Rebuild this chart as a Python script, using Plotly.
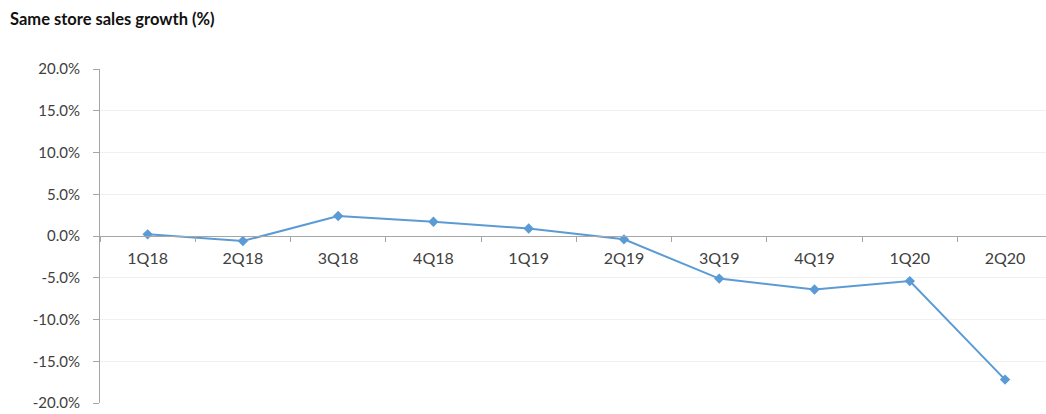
import plotly.graph_objects as go

quarters = ["1Q18", "2Q18", "3Q18", "4Q18", "1Q19", "2Q19", "3Q19", "4Q19", "1Q20", "2Q20"]
growth = [0.2, -0.6, 2.4, 1.7, 0.9, -0.4, -5.1, -6.4, -5.4, -17.2]
y_ticks = [20, 15, 10, 5, 0, -5, -10, -15, -20]
y_tick_labels = ["20.0%", "15.0%", "10.0%", "5.0%", "0.0%", "-5.0%", "-10.0%", "-15.0%", "-20.0%"]

fig = go.Figure()
fig.add_trace(go.Scatter(
    x=quarters, y=growth, mode="lines+markers",
    line=dict(color="#5b9bd5", width=2),
    marker=dict(symbol="diamond", size=8, color="#5b9bd5"),
    showlegend=False,
))

fig.update_layout(
    width=1046, height=414,
    margin=dict(l=100, r=0, t=69, b=11),
    paper_bgcolor="white", plot_bgcolor="white",
    font=dict(family="Lato, Open Sans, sans-serif", size=15, color="#404040"),
    xaxis=dict(
        type="category", range=[-0.5, 9.43],
        anchor="free", position=0.5,
        showline=True, linecolor="#a6a6a6", linewidth=1,
        ticks="outside", ticklen=5, tickcolor="#a6a6a6", tickson="boundaries",
        showgrid=False, zeroline=False, ticklabelstandoff=8,
        tickfont=dict(size=16, color="#404040"),
    ),
    yaxis=dict(
        range=[-20, 20], tickvals=y_ticks, ticktext=y_tick_labels,
        showline=True, linecolor="#a6a6a6", linewidth=1,
        ticks="outside", ticklen=6, tickcolor="#a6a6a6",
        showgrid=True, gridcolor="#f0f0f0", gridwidth=1,
        zeroline=False, ticklabelstandoff=10,
        tickfont=dict(size=15, color="#404040"),
    ),
    annotations=[dict(
        text="<b>Same store sales growth (%)</b>",
        xref="paper", yref="paper", x=-92/946, y=1 + 50/334,
        xanchor="left", yanchor="middle", showarrow=False,
        font=dict(size=16.5, color="#111111", family="Lato, Open Sans, sans-serif"),
    )],
)

fig.write_html("out.html")
